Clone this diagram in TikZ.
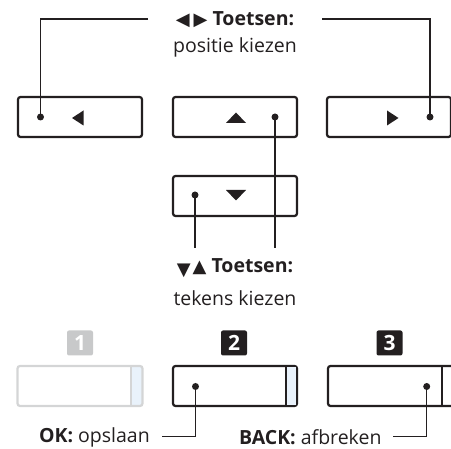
\documentclass[tikz,border=0pt]{standalone}
\usepackage{fontspec}
\setmainfont{Open Sans}
\newfontfamily\symf{DejaVu Sans}
\definecolor{ink}{HTML}{231F20}
\definecolor{lgrey}{HTML}{D4D5D6}
\definecolor{bgrey}{HTML}{C8C9CA}
\definecolor{lblue}{HTML}{E9F2FB}
\tikzset{
  btn/.style={draw=ink, line width=2.2pt, rounded corners=2.5pt, minimum width=124pt, minimum height=40pt, inner sep=0pt, fill=white},
  pin/.style={circle, fill=ink, inner sep=0pt, minimum size=7pt},
  conn/.style={draw=ink, line width=1.2pt},
  lbl/.style={text=ink, inner sep=0pt, font=\fontsize{19.5}{23}\selectfont},
  blbl/.style={text=ink, inner sep=0pt, font=\bfseries\fontsize{19.5}{23}\selectfont},
  badge/.style={rounded corners=2pt, minimum width=26pt, minimum height=25pt, inner sep=0pt, text=white, font=\bfseries\fontsize{21}{23}\selectfont},
}
\begin{document}
\begin{tikzpicture}[x=1pt,y=-1pt]
\useasboundingbox (0,0) rectangle (451,449);
\clip (0,0) rectangle (451,449);
% top row buttons
\node[btn] (bL) at (80,117) {};
\node[btn] (bU) at (235,117) {};
\node[btn] (bR) at (389,117) {};
\node[btn] (bD) at (235,196) {};
% arrows inside buttons
\fill[ink] (72,118) -- (83.5,110.5) -- (83.5,125.5) -- cycle;
\fill[ink] (226,123) -- (246,123) -- (236,112.5) -- cycle;
\fill[ink] (398.5,118) -- (387,110.5) -- (387,125.5) -- cycle;
\fill[ink] (226,190) -- (246,190) -- (236,200.5) -- cycle;
% pins
\node[pin] (pL) at (40.5,117) {};
\node[pin] (pU) at (275,117) {};
\node[pin] (pR) at (430,117) {};
\node[pin] (pD) at (195,195) {};
% labels top
\node[blbl] (t1) at (235,20) {{\symf\fontsize{18}{19}\selectfont ◀\kern4pt▶}\kern5pt Toetsen:};
\node[lbl] (t1b) at (235,47) {positie kiezen};
\coordinate (cL) at (148,19);
\coordinate (cR) at (322,19);
\draw[conn] (cL) -| (pL.center);
\draw[conn] (cR) -| (pR.center);
% labels middle
\node[blbl] (t2) at (235,268) {{\symf\fontsize{18}{19}\selectfont \raisebox{-3pt}{▼}\kern2pt▲}\kern5pt Toetsen:};
\node[lbl] (t2b) at (235,298) {tekens kiezen};
\coordinate (cU) at (275,248);
\coordinate (cD) at (195,248);
\draw[conn] (pU.center) -- (cU);
\draw[conn] (pD.center) -- (cD);
% badges
\node[badge, fill=bgrey] (n1) at (80,343) {1};
\node[badge, fill=ink] (n2) at (234,343) {2};
\node[badge, fill=ink] (n3) at (389.5,343) {3};
% bottom buttons
\fill[lblue] (131,366) rectangle (142.5,406);
\draw[lgrey, line width=2.2pt, rounded corners=2.5pt] (17.5,366) rectangle (142.5,406);
\draw[lgrey, line width=2.2pt] (131,366) -- (131,406);
\node[btn] (b2) at (235,386) {};
\fill[lblue] (286,367) rectangle (296,405);
\draw[ink, line width=2.2pt] (286,366) -- (286,406);
\node[btn, minimum width=130pt] (b3) at (393,386) {};
\draw[ink, line width=2.2pt] (441.7,366) -- (441.7,406);
\node[pin] (p2) at (195.5,386.5) {};
\node[pin] (p3) at (426.7,386.5) {};
% bottom labels
\node[lbl, anchor=east] (ok) at (150,437) {\textbf{OK:} opslaan};
\node[lbl, anchor=east] (back) at (381.7,437) {\textbf{BACK:} afbreken};
\coordinate (cOK) at (162,436.5);
\coordinate (cBK) at (393,436.5);
\draw[conn] (p2.center) |- (cOK);
\draw[conn] (p3.center) |- (cBK);
\end{tikzpicture}
\end{document}
